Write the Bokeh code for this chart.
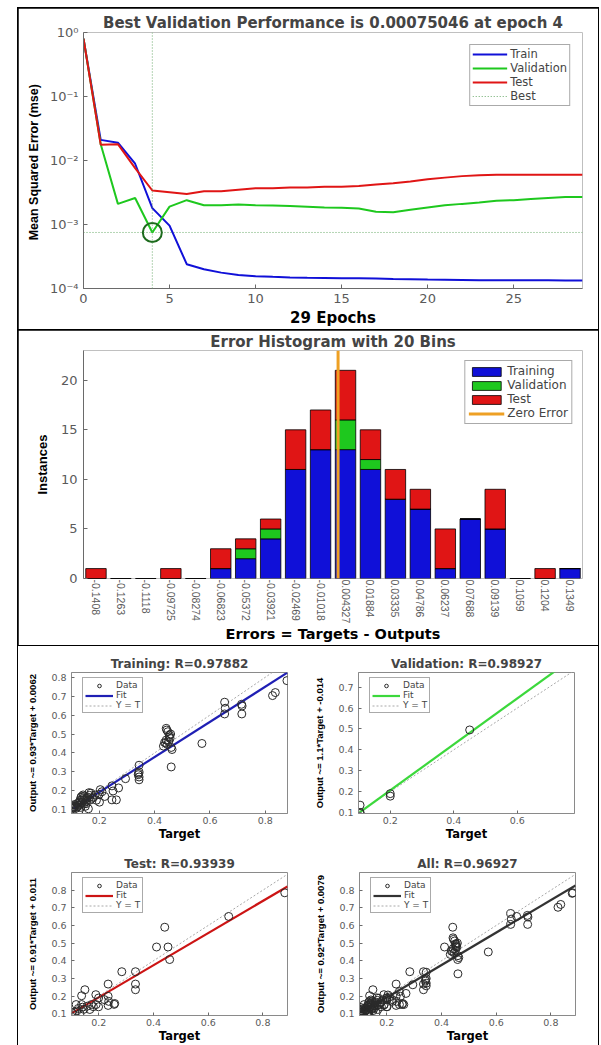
from bokeh.plotting import figure
from bokeh.models import Range1d, FixedTicker, Span, Legend, LegendItem, ColumnDataSource
from bokeh.layouts import column, row
from bokeh.embed import file_html
from bokeh.resources import INLINE

# ---------------- data: performance ----------------
epochs = list(range(30))
train_perf = [0.80, 0.021, 0.019, 0.0089, 0.0018, 0.00096, 0.00024, 0.00020, 0.000177, 0.000163,
              0.000156, 0.000152, 0.000149, 0.000147, 0.000146, 0.000145, 0.000144, 0.000143, 0.000141, 0.000140,
              0.000138, 0.000137, 0.000136, 0.000135, 0.000135, 0.000134, 0.000134, 0.000134, 0.000133, 0.000133]
val_perf = [0.80, 0.018, 0.0021, 0.0026, 0.00075046, 0.0019, 0.0024, 0.0020, 0.0020, 0.00205,
            0.0020, 0.00198, 0.00195, 0.0019, 0.00185, 0.00182, 0.00178, 0.00158, 0.00155, 0.0017,
            0.00185, 0.0020, 0.0021, 0.0022, 0.00235, 0.0024, 0.0025, 0.0026, 0.0027, 0.0027]
test_perf = [0.80, 0.0177, 0.018, 0.0076, 0.0034, 0.0032, 0.0030, 0.0033, 0.0033, 0.0035,
             0.0037, 0.0037, 0.0038, 0.0038, 0.0039, 0.0039, 0.0040, 0.0042, 0.0044, 0.0047,
             0.0051, 0.0054, 0.0057, 0.0059, 0.0060, 0.0060, 0.0060, 0.0060, 0.0060, 0.0060]
best_epoch = 4
best_perf = 0.00075046
perf_ticks = [1e-4, 1e-3, 1e-2, 1e-1, 1.0]
perf_tick_labels = ["10\u207b\u2074", "10\u207b\u00b3", "10\u207b\u00b2", "10\u207b\u00b9", "10\u2070"]
epoch_ticks = [0, 5, 10, 15, 20, 25]

# ---------------- data: error histogram ----------------
bin_centers = [-0.1408, -0.1263, -0.1118, -0.09725, -0.08274, -0.06823, -0.05372, -0.03921, -0.02469, -0.01018,
               0.004327, 0.01884, 0.03335, 0.04786, 0.06237, 0.07688, 0.09139, 0.1059, 0.1204, 0.1349]
bin_labels = ["-0.1408", "-0.1263", "-0.1118", "-0.09725", "-0.08274", "-0.06823", "-0.05372", "-0.03921",
              "-0.02469", "-0.01018", "0.004327", "0.01884", "0.03335", "0.04786", "0.06237", "0.07688",
              "0.09139", "0.1059", "0.1204", "0.1349"]
hist_train = [0, 0, 0, 0, 0, 1, 2, 4, 11, 13, 13, 11, 8, 7, 1, 6, 5, 0, 0, 1]
hist_val   = [0, 0, 0, 0, 0, 0, 1, 1, 0, 0, 3, 1, 0, 0, 0, 0, 0, 0, 0, 0]
hist_test  = [1, 0, 0, 1, 0, 2, 1, 1, 4, 4, 5, 3, 3, 2, 4, 0, 4, 0, 1, 0]
zero_error = 0.0
hist_ymax = 23
hist_yticks = [0, 5, 10, 15, 20]

# ---------------- data: regression ----------------
train_target = [0.100, 0.102, 0.105, 0.107, 0.110, 0.112, 0.115, 0.118, 0.120, 0.121, 0.124, 0.127, 0.130, 0.131,
                0.134, 0.136, 0.137, 0.139, 0.141, 0.143, 0.145, 0.147, 0.149, 0.150, 0.153, 0.156, 0.158, 0.161,
                0.163, 0.165, 0.170, 0.175, 0.179, 0.185, 0.190, 0.128, 0.133, 0.142, 0.155, 0.168,
                0.200, 0.201, 0.204, 0.210, 0.220,
                0.246, 0.250, 0.246, 0.262, 0.270, 0.295,
                0.344, 0.344, 0.344, 0.344, 0.341, 0.342,
                0.442, 0.444, 0.448, 0.454, 0.442, 0.440, 0.432, 0.456, 0.460, 0.460, 0.463, 0.451, 0.446, 0.458,
                0.436, 0.453,
                0.571,
                0.653, 0.655, 0.653, 0.714, 0.716, 0.715,
                0.826, 0.836, 0.878]
train_output = [0.110, 0.118, 0.105, 0.122, 0.112, 0.128, 0.119, 0.108, 0.114, 0.131, 0.124, 0.140, 0.123, 0.150,
                0.165, 0.170, 0.137, 0.158, 0.141, 0.153, 0.130, 0.172, 0.153, 0.118, 0.132, 0.160, 0.167, 0.105,
                0.190, 0.176, 0.188, 0.160, 0.167, 0.178, 0.150, 0.098, 0.112, 0.178, 0.145, 0.151,
                0.181, 0.140, 0.206, 0.195, 0.170,
                0.226, 0.199, 0.152, 0.152, 0.215, 0.264,
                0.335, 0.300, 0.273, 0.258, 0.285, 0.292,
                0.530, 0.521, 0.512, 0.494, 0.468, 0.452, 0.436, 0.477, 0.429, 0.326, 0.418, 0.460, 0.445, 0.500,
                0.455, 0.485,
                0.450,
                0.668, 0.636, 0.606, 0.657, 0.648, 0.606,
                0.703, 0.719, 0.782]
val_target = [0.105, 0.105, 0.105, 0.200, 0.200, 0.450]
val_output = [0.135, 0.100, 0.095, 0.190, 0.178, 0.495]
test_target = [0.101, 0.119, 0.117, 0.131, 0.137, 0.149, 0.137, 0.140, 0.158, 0.167, 0.173, 0.189, 0.190, 0.199,
               0.199, 0.234, 0.234, 0.234, 0.236, 0.258, 0.256, 0.284, 0.334, 0.334, 0.334, 0.411, 0.441, 0.453,
               0.459, 0.675, 0.880, 0.125, 0.145, 0.112, 0.180, 0.220]
test_output = [0.106, 0.115, 0.152, 0.100, 0.202, 0.236, 0.152, 0.137, 0.143, 0.124, 0.152, 0.208, 0.152, 0.189,
               0.139, 0.268, 0.199, 0.147, 0.170, 0.158, 0.153, 0.338, 0.338, 0.268, 0.236, 0.478, 0.590, 0.478,
               0.407, 0.651, 0.785, 0.130, 0.125, 0.110, 0.140, 0.180]
all_target = train_target + val_target + test_target
all_output = train_output + val_output + test_output

reg_titles = ["Training: R=0.97882", "Validation: R=0.98927", "Test: R=0.93939", "All: R=0.96927"]
reg_slopes = [0.93, 1.1, 0.91, 0.92]
reg_intercepts = [0.0062, -0.014, 0.011, 0.0079]
reg_ylabels = ["Output ~= 0.93*Target + 0.0062", "Output ~= 1.1*Target + -0.014",
               "Output ~= 0.91*Target + 0.011", "Output ~= 0.92*Target + 0.0079"]
reg_xlims = [(0.10, 0.88), (0.10, 0.78), (0.10, 0.89), (0.10, 0.89)]
reg_ylims = [(0.08, 0.825), (0.095, 0.77), (0.09, 0.90), (0.09, 0.90)]
reg_xticks = [0.2, 0.4, 0.6, 0.8]
reg_yticks_full = [0.1, 0.2, 0.3, 0.4, 0.5, 0.6, 0.7, 0.8]
reg_yticks_val = [0.1, 0.2, 0.3, 0.4, 0.5, 0.6, 0.7]

# ---------------- style ----------------
HFONT = "DejaVu Sans"
VFONT = "Liberation Sans"
TICK = "#5a5a5a"
AXIS = "#6a6a6a"
BLUE = "#1010d8"
GREEN = "#1ec81e"
RED = "#e01515"
ORANGE = "#eea024"


def base_axes(p, tick_size):
    p.grid.visible = False
    for ax in p.axis:
        ax.axis_line_color = AXIS
        ax.major_tick_line_color = AXIS
        ax.major_tick_in = 4
        ax.major_tick_out = 0
        ax.minor_tick_line_color = None
        ax.major_label_text_color = TICK
        ax.major_label_text_font = HFONT
        ax.major_label_text_font_size = tick_size
        ax.axis_label_text_font_style = "bold"
        ax.axis_label_text_color = "black"


def style_legend(leg, size, gw, gh):
    leg.border_line_color = "#555555"
    leg.label_text_font = HFONT
    leg.label_text_font_size = size
    leg.glyph_width = gw
    leg.glyph_height = gh
    leg.label_height = gh
    leg.spacing = 0
    leg.label_standoff = 3


# ================= panel 1: performance =================
p1 = figure(width=580, height=321, x_range=Range1d(0, 29), y_range=Range1d(1e-4, 1.0),
            y_axis_type="log", output_backend="svg", toolbar_location=None,
            min_border_left=65, min_border_right=16, min_border_top=24, min_border_bottom=35,
            title="Best Validation Performance is 0.00075046 at epoch 4")
p1.margin = (1, 1, 0, 1)
p1.outline_line_color = None
p1.title.align = "center"
p1.title.text_font = HFONT
p1.title.text_font_size = "15px"
p1.title.text_font_style = "bold"
p1.title.standoff = 2
base_axes(p1, "13px")
p1.xaxis.ticker = FixedTicker(ticks=epoch_ticks)
p1.yaxis.ticker = FixedTicker(ticks=perf_ticks)
p1.yaxis.major_label_overrides = {t: l for t, l in zip(perf_ticks, perf_tick_labels)}
p1.xaxis.axis_label = "29 Epochs"
p1.xaxis.axis_label_text_font = HFONT
p1.xaxis.axis_label_text_font_size = "15px"
p1.xaxis.axis_label_standoff = 3
p1.xaxis.major_label_standoff = 5
p1.yaxis.axis_label = "Mean Squared Error  (mse)"
p1.yaxis.axis_label_text_font = VFONT
p1.yaxis.axis_label_text_font_size = "12.5px"
p1.yaxis.axis_label_standoff = 6
p1.yaxis.major_label_standoff = 5

p1.add_layout(Span(location=best_epoch, dimension="height", line_color="#6aaa6a",
                   line_dash="1 2", line_width=1))
r_best = p1.line(x=[epochs[0], epochs[-1]], y=[best_perf, best_perf], line_color="#6aaa6a",
                 line_dash="1 2", line_width=1)
r_tr = p1.line(epochs, train_perf, line_color=BLUE, line_width=2)
r_va = p1.line(epochs, val_perf, line_color=GREEN, line_width=2)
r_te = p1.line(epochs, test_perf, line_color=RED, line_width=2)
p1.scatter(x=[best_epoch], y=[best_perf], marker="circle", size=19, fill_color=None,
           line_color="#1d6b1d", line_width=2)
leg1 = Legend(items=[LegendItem(label="Train", renderers=[r_tr]),
                     LegendItem(label="Validation", renderers=[r_va]),
                     LegendItem(label="Test", renderers=[r_te]),
                     LegendItem(label="Best", renderers=[r_best])],
              location="top_right")
style_legend(leg1, "11.5px", 35, 10)
leg1.padding = 2
leg1.margin = 12
p1.add_layout(leg1)

# ================= panel 2: error histogram =================
half_bin = (bin_centers[1] - bin_centers[0]) / 2
p2 = figure(width=580, height=315,
            x_range=Range1d(bin_centers[0] - half_bin, bin_centers[-1] + half_bin),
            y_range=Range1d(0, hist_ymax), output_backend="svg", toolbar_location=None,
            min_border_left=56, min_border_right=3, min_border_top=18, min_border_bottom=62,
            title="Error Histogram with 20 Bins")
p2.margin = (1, 1, 0, 1)
p2.outline_line_color = None
p2.title.align = "center"
p2.title.text_font = HFONT
p2.title.text_font_size = "15px"
p2.title.text_font_style = "bold"
p2.title.standoff = 0
base_axes(p2, "13px")
src = ColumnDataSource(dict(x=bin_centers, train=hist_train, val=hist_val, test=hist_test))
bars = p2.vbar_stack(["train", "val", "test"], x="x", width=half_bin * 2 * 0.82, source=src,
                     color=[BLUE, GREEN, RED], line_color="black", line_width=0.8)
r_zero = p2.line(x=[zero_error, zero_error], y=[0, hist_ymax], line_color=ORANGE, line_width=3)
p2.xaxis.ticker = FixedTicker(ticks=bin_centers)
p2.xaxis.major_label_overrides = {c: l for c, l in zip(bin_centers, bin_labels)}
p2.xaxis.major_label_orientation = "vertical"
p2.xaxis.major_label_text_font = VFONT
p2.xaxis.major_label_text_font_size = "10.5px"
p2.xaxis.major_label_standoff = 1
p2.xaxis.major_tick_in = 0
p2.xaxis.axis_line_color = None
p2.xaxis.major_tick_line_color = None
p2.xaxis.axis_label = "Errors = Targets - Outputs"
p2.xaxis.axis_label_text_font = HFONT
p2.xaxis.axis_label_text_font_size = "14.5px"
p2.xaxis.axis_label_standoff = 0
p2.yaxis.ticker = FixedTicker(ticks=hist_yticks)
p2.yaxis.axis_label = "Instances"
p2.yaxis.axis_label_text_font = VFONT
p2.yaxis.axis_label_text_font_size = "13px"
p2.yaxis.axis_label_standoff = 8
p2.yaxis.major_label_standoff = 6
leg2 = Legend(items=[LegendItem(label="Training", renderers=[bars[0]]),
                     LegendItem(label="Validation", renderers=[bars[1]]),
                     LegendItem(label="Test", renderers=[bars[2]]),
                     LegendItem(label="Zero Error", renderers=[r_zero])],
              location="top_right")
style_legend(leg2, "12px", 36, 11)
leg2.padding = 3
leg2.margin = 10
p2.add_layout(leg2)


# ================= panel 3: regressions =================
def reg_plot(i, tx, ty, fit_color, width, height, mbl, mbt, mbb, yticks):
    xlo, xhi = reg_xlims[i]
    ylo, yhi = reg_ylims[i]
    p = figure(width=width, height=height, x_range=Range1d(xlo, xhi), y_range=Range1d(ylo, yhi),
               output_backend="svg", toolbar_location=None,
               min_border_left=mbl, min_border_right=width - mbl - 216, min_border_top=mbt,
               min_border_bottom=mbb, title=reg_titles[i])
    p.outline_line_color = "#8a8a8a"
    p.title.align = "center"
    p.title.text_font = HFONT
    p.title.text_font_size = "12px"
    p.title.text_font_style = "bold"
    p.title.standoff = 3
    base_axes(p, "9.5px")
    p.xaxis.ticker = FixedTicker(ticks=reg_xticks)
    p.yaxis.ticker = FixedTicker(ticks=yticks)
    p.xaxis.axis_line_color = "#8a8a8a"
    p.yaxis.axis_line_color = "#8a8a8a"
    p.xaxis.major_tick_in = 3
    p.yaxis.major_tick_in = 3
    p.xaxis.axis_label = "Target"
    p.xaxis.axis_label_text_font = HFONT
    p.xaxis.axis_label_text_font_size = "11.5px"
    p.xaxis.axis_label_standoff = 0
    p.xaxis.major_label_standoff = 3
    p.yaxis.axis_label = reg_ylabels[i]
    p.yaxis.axis_label_text_font = VFONT
    p.yaxis.axis_label_text_font_size = "9.5px"
    p.yaxis.axis_label_standoff = 10
    p.yaxis.major_label_standoff = 5
    lo = min(xlo, ylo)
    hi = max(xhi, yhi)
    r_yt = p.line(x=[lo, hi], y=[lo, hi], line_color="#a8a8a8", line_dash="2 2", line_width=1)
    r_fit = p.line(x=[xlo, xhi], y=[reg_slopes[i] * xlo + reg_intercepts[i], reg_slopes[i] * xhi + reg_intercepts[i]],
                   line_color=fit_color, line_width=2.2)
    r_dat = p.scatter(tx, ty, marker="circle", size=8, fill_color=None, line_color="#2a2a2a", line_width=1)
    fh = height - mbt - mbb
    leg = Legend(items=[LegendItem(label="Data", renderers=[r_dat]),
                        LegendItem(label="Fit", renderers=[r_fit]),
                        LegendItem(label="Y = T", renderers=[r_yt])],
                 location=(11, fh - 5 - 36))
    style_legend(leg, "9px", 28, 9)
    leg.padding = 2
    leg.margin = 0
    p.add_layout(leg)
    return p


f_tr = reg_plot(0, train_target, train_output, "#1f1fb4", 290, 200, 53, 26, 33, reg_yticks_full)
f_va = reg_plot(1, val_target, val_output, "#3cd83c", 290, 200, 50, 26, 33, reg_yticks_val)
f_te = reg_plot(2, test_target, test_output, "#cc1414", 290, 199, 53, 26, 30, reg_yticks_full)
f_al = reg_plot(3, all_target, all_output, "#333333", 290, 199, 51, 26, 30, reg_yticks_full)

top_row = row(f_tr, f_va, styles={"background-color": "#ffffff"})
bot_row = row(f_te, f_al, styles={"background-color": "#ffffff"})
panel3 = column(top_row, bot_row, margin=(1, 1, 0, 1), styles={"background-color": "#ffffff"})

root = column(p1, p2, panel3, width=582, height=1038, margin=(7, 0, 0, 17),
              styles={"background-color": "#000000"})

open("out.html", "w").write(file_html(root, INLINE))
